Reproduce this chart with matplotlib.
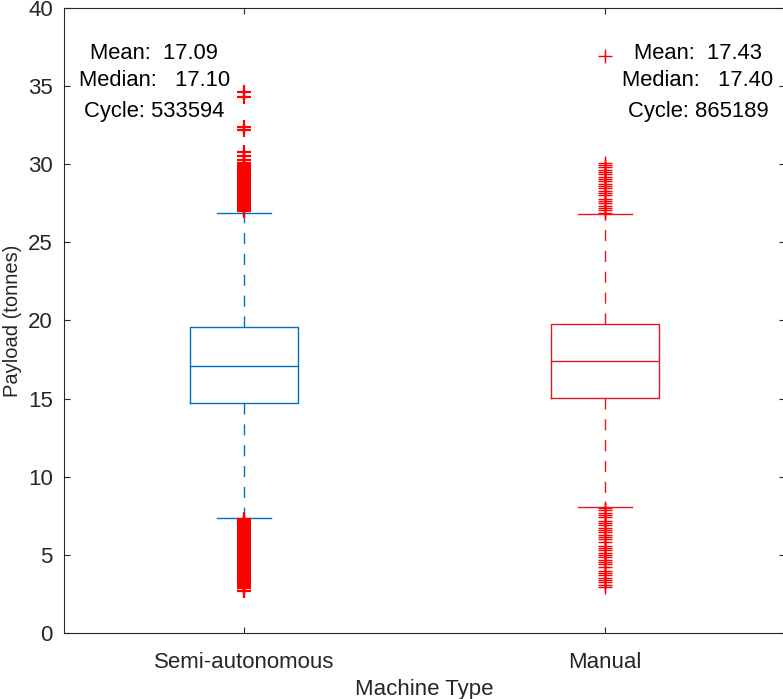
import matplotlib.pyplot as plt

# values
machine_types = ['Semi-autonomous', 'Manual']
q1 = [14.72, 15.05]
median = [17.10, 17.38]
q3 = [19.60, 19.78]
whisker_low = [7.38, 8.06]
whisker_high = [26.88, 26.82]
means = ['17.09', '17.43']
medians_txt = ['17.10', '17.40']
cycles = ['533594', '865189']

semi_outliers = [
    27.0, 27.1, 27.2, 27.3, 27.4, 27.5, 27.6, 27.7, 27.8, 27.9,
    28.0, 28.1, 28.2, 28.3, 28.4, 28.5, 28.6, 28.7, 28.8, 28.9,
    29.0, 29.1, 29.2, 29.3, 29.4, 29.5, 29.6, 29.7, 29.8, 29.9,
    30.0, 30.1, 30.3, 30.5, 30.8, 32.2, 32.4, 34.3, 34.6,
    7.3, 7.2, 7.1, 7.0, 6.9, 6.8, 6.7, 6.6, 6.5, 6.4, 6.3, 6.2, 6.1,
    6.0, 5.9, 5.8, 5.7, 5.6, 5.5, 5.4, 5.3, 5.2, 5.1, 5.0, 4.9, 4.8,
    4.7, 4.6, 4.5, 4.4, 4.3, 4.2, 4.1, 4.0, 3.9, 3.8, 3.7, 3.6, 3.5,
    3.4, 3.3, 3.2, 3.1, 3.0, 2.9, 2.7,
]
manual_outliers = [
    26.9, 27.05, 27.2, 27.35, 27.5, 27.65, 27.8, 28.0, 28.15, 28.3,
    28.45, 28.6, 28.75, 28.9, 29.05, 29.2, 29.35, 29.5, 29.65, 29.8,
    29.95, 30.1, 36.9,
    8.0, 7.85, 7.7, 7.55, 7.4, 7.2, 7.05, 6.9, 6.75, 6.6, 6.45, 6.3,
    6.15, 6.0, 5.85, 5.6, 5.45, 5.3, 5.15, 5.0, 4.85, 4.7, 4.55, 4.4,
    4.25, 4.0, 3.85, 3.7, 3.55, 3.4, 3.25, 3.1, 2.95,
]
fliers = [semi_outliers, manual_outliers]

colors = ['#0072BD', '#E8191C']
flier_widths = [1.6, 1.0]

plt.rcParams['font.family'] = ['Liberation Sans', 'DejaVu Sans']

fig = plt.figure(figsize=(7.83, 6.99), dpi=100)
ax = fig.add_axes([0.0817, 0.0944, 0.921, 0.8942])

for i in range(2):
    stats = [{
        'med': median[i], 'q1': q1[i], 'q3': q3[i],
        'whislo': whisker_low[i], 'whishi': whisker_high[i],
        'fliers': fliers[i],
    }]
    c = colors[i]
    ax.bxp(stats, positions=[i + 1], widths=0.3, showfliers=True,
           boxprops=dict(color=c, linewidth=1.0),
           medianprops=dict(color=c, linewidth=1.0),
           whiskerprops=dict(color=c, linewidth=1.0, linestyle=(0, (8, 7))),
           capprops=dict(color=c, linewidth=1.0),
           capwidths=0.15,
           flierprops=dict(marker='+', markeredgecolor='red',
                           markersize=10, markeredgewidth=flier_widths[i]))

text_x = [0.75, 2.258]
for i in range(2):
    ax.text(text_x[i], 37.06, 'Mean:  ' + means[i], ha='center', va='center',
            fontsize=15.8)
    ax.text(text_x[i], 35.33, 'Median:   ' + medians_txt[i], ha='center',
            va='center', fontsize=15.8)
    ax.text(text_x[i], 33.4, 'Cycle: ' + cycles[i], ha='center', va='center',
            fontsize=15.8)

ax.set_xlim(0.5, 2.5)
ax.set_ylim(0, 40)
ax.set_yticks(range(0, 41, 5))
ax.set_xticks([1, 2])
ax.set_xticklabels(machine_types)
ax.tick_params(direction='in', top=True, right=True, length=4,
               labelsize=16, colors='#262626', width=0.8)
ax.tick_params(axis='x', pad=14)
ax.tick_params(axis='y', pad=8)
for s in ax.spines.values():
    s.set_color('#262626')
    s.set_linewidth(0.8)
ax.set_xlabel('Machine Type', fontsize=16, color='#262626', labelpad=4)
ax.set_ylabel('Payload (tonnes)', fontsize=14.5, color='#262626', va='center')
ax.yaxis.set_label_coords(-0.072, 0.5)

fig.savefig('out.png', dpi=100)
